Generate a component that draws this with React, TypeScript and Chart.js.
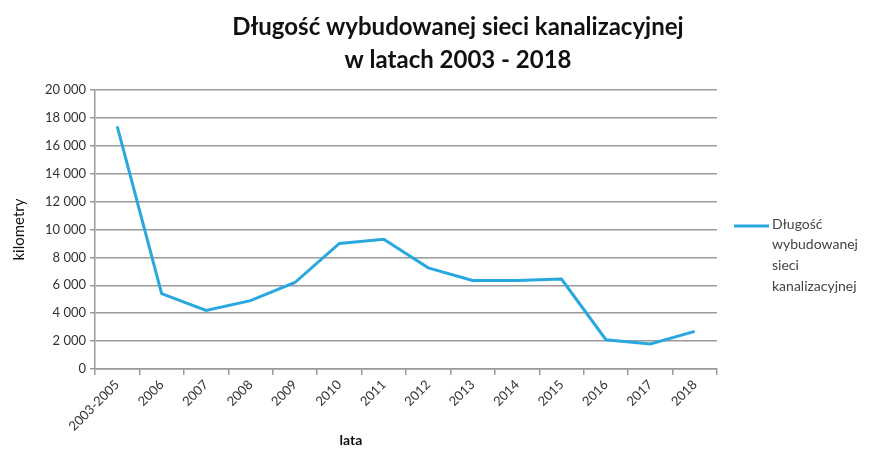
import React, { useEffect, useRef } from "react";
import { Chart, registerables } from "chart.js";

Chart.register(...registerables);

const categories = ["2003-2005", "2006", "2007", "2008", "2009", "2010", "2011", "2012", "2013", "2014", "2015", "2016", "2017", "2018"];
const values = [17400, 5400, 4200, 4900, 6200, 9000, 9300, 7250, 6350, 6350, 6450, 2100, 1800, 2700];
const titleLines = ["Długość wybudowanej sieci kanalizacyjnej", "w latach 2003 - 2018"];
const seriesLabel = "Długość wybudowanej sieci kanalizacyjnej";
const legendLines = ["Długość", "wybudowanej", "sieci", "kanalizacyjnej"];
const xTitle = "lata";
const yTitle = "kilometry";

const FONT = "Lato, 'Open Sans', sans-serif";
const LINE_COLOR = "#29a8df";
const GRID = "#9a9a9a";

const fmt = (v: number) => String(v).replace(/\B(?=(\d{3})+(?!\d))/g, " ");

const decor = {
  id: "decor",
  afterDraw(chart: any) {
    const ctx = chart.ctx;
    ctx.save();
    ctx.fillStyle = "#111";
    ctx.textAlign = "center";
    ctx.textBaseline = "middle";
    ctx.font = `bold 24px ${FONT}`;
    ctx.fillText(titleLines[0], 458, 27);
    ctx.fillText(titleLines[1], 458, 60);
    ctx.font = `bold 14px ${FONT}`;
    ctx.fillText(xTitle, 351, 440);
    // legend
    ctx.strokeStyle = LINE_COLOR;
    ctx.lineWidth = 3;
    ctx.beginPath();
    ctx.moveTo(734, 226);
    ctx.lineTo(769, 226);
    ctx.stroke();
    ctx.fillStyle = "#444";
    ctx.textAlign = "left";
    ctx.font = `14px ${FONT}`;
    legendLines.forEach((t, i) => ctx.fillText(t, 772, 224 + i * 20.7));
    ctx.restore();
  },
};

export default function App() {
  const ref = useRef<HTMLCanvasElement>(null);
  useEffect(() => {
    const chart = new Chart(ref.current!, {
      type: "line",
      data: {
        labels: categories,
        datasets: [
          {
            label: seriesLabel,
            data: values,
            borderColor: LINE_COLOR,
            backgroundColor: LINE_COLOR,
            borderWidth: 3,
            pointRadius: 0,
            tension: 0,
          },
        ],
      },
      options: {
        responsive: false,
        animation: false,
        layout: { padding: { top: 90, right: 153, bottom: 0, left: 0 } },
        plugins: { legend: { display: false }, title: { display: false }, tooltip: { enabled: false } },
        scales: {
          x: {
            offset: true,
            grid: { display: true, drawOnChartArea: false, drawTicks: true, tickLength: 6, color: GRID, lineWidth: 1.5, offset: true },
            border: { display: true, color: GRID, width: 1.5 },
            ticks: { font: { family: FONT, size: 13 }, color: "#333", maxRotation: 45, minRotation: 45, autoSkip: false, padding: 2 },
            afterFit: (s: any) => { s.height = 81; },
          },
          y: {
            min: 0,
            max: 20000,
            ticks: { stepSize: 2000, callback: (v: any) => fmt(Number(v)), font: { family: FONT, size: 13 }, color: "#333", padding: 4 },
            grid: { color: GRID, lineWidth: 1.5, drawTicks: true, tickLength: 5 },
            border: { display: true, color: GRID, width: 1.5 },
            title: { display: true, text: yTitle, font: { family: FONT, size: 15 }, color: "#111", padding: { top: 10, bottom: 0 } },
            afterFit: (s: any) => { s.width = 95; },
          },
        },
      },
      plugins: [decor],
    });
    return () => chart.destroy();
  }, []);
  return (
    <div style={{ position: "absolute", left: 0, top: 0, width: 870, height: 450, background: "#fff" }}>
      <canvas ref={ref} width={870} height={450} />
    </div>
  );
}
